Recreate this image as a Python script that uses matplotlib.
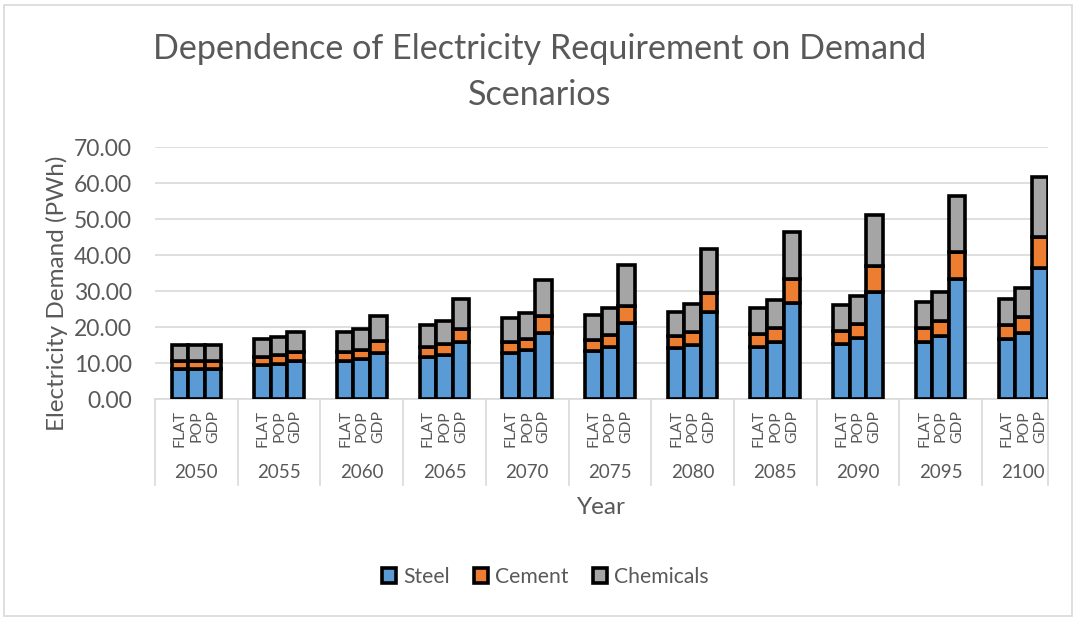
import matplotlib
matplotlib.use("Agg")
import matplotlib.pyplot as plt
import matplotlib.transforms as mtransforms
from matplotlib.patches import Rectangle, Patch
import numpy as np

plt.rcParams['font.family'] = ['Lato', 'DejaVu Sans']

years = ['2050', '2055', '2060', '2065', '2070', '2075', '2080', '2085', '2090', '2095', '2100']
scenarios = ['FLAT', 'POP', 'GDP']

# Electricity demand (PWh) per sector, one list per scenario, indexed by year
steel_flat = [8.4, 9.5, 10.5, 11.6, 12.7, 13.4, 14.1, 14.5, 15.2, 15.9, 16.6]
steel_pop = [8.4, 9.7, 11.0, 12.2, 13.6, 14.4, 15.0, 15.8, 16.9, 17.6, 18.4]
steel_gdp = [8.4, 10.5, 12.9, 15.7, 18.4, 21.0, 24.1, 26.6, 29.8, 33.3, 36.5]

cement_flat = [2.1, 2.3, 2.6, 2.8, 3.1, 3.0, 3.4, 3.6, 3.6, 3.8, 3.9]
cement_pop = [2.1, 2.4, 2.6, 3.0, 3.2, 3.4, 3.6, 3.8, 3.8, 4.1, 4.3]
cement_gdp = [2.1, 2.5, 3.2, 3.8, 4.7, 4.9, 5.4, 6.6, 7.1, 7.4, 8.4]

chem_flat = [4.5, 5.0, 5.5, 6.1, 6.6, 6.9, 6.8, 7.1, 7.2, 7.2, 7.4]
chem_pop = [4.5, 5.2, 5.9, 6.6, 7.2, 7.4, 7.7, 7.9, 7.9, 8.1, 8.2]
chem_gdp = [4.5, 5.7, 6.9, 8.2, 10.0, 11.3, 12.1, 13.2, 14.3, 15.6, 16.8]

series_names = ['Steel', 'Cement', 'Chemicals']
series_colors = ['#5B9BD5', '#ED7D31', '#A5A5A5']
text_color = '#595959'
grid_color = '#D9D9D9'

W, H = 1076, 619
fig = plt.figure(figsize=(W / 100, H / 100), dpi=100)

# Plot area in pixel coordinates
ax_l, ax_r, ax_t, ax_b = 155, 1048, 147, 399
ax = fig.add_axes([ax_l / W, 1 - ax_b / H, (ax_r - ax_l) / W, (ax_b - ax_t) / H])

n_groups = len(years)
group_px = 82.7
xmax = (ax_r - ax_l) / group_px
bar_w = 0.2
offsets = np.array([-bar_w, 0.0, bar_w])

steel = [steel_flat, steel_pop, steel_gdp]
cement = [cement_flat, cement_pop, cement_gdp]
chem = [chem_flat, chem_pop, chem_gdp]

centers = np.arange(n_groups) + 0.5
for si in range(3):
    xs = centers + offsets[si]
    s = np.array(steel[si])
    c = np.array(cement[si])
    h = np.array(chem[si])
    kw = dict(width=bar_w, edgecolor='black', linewidth=2.6, zorder=3)
    ax.bar(xs, s, color=series_colors[0], **kw)
    ax.bar(xs, c, bottom=s, color=series_colors[1], **kw)
    ax.bar(xs, h, bottom=s + c, color=series_colors[2], **kw)

ax.set_xlim(0, xmax)
ax.set_ylim(0, 70)
ax.set_yticks(np.arange(0, 71, 10))
ax.set_yticklabels([f'{v:.2f}' for v in np.arange(0, 71, 10)])
ax.tick_params(axis='y', length=0, pad=16.5, labelsize=16.5, labelcolor=text_color)
ax.set_xticks([])
for sp in ['top', 'right', 'left']:
    ax.spines[sp].set_visible(False)
ax.spines['bottom'].set_color(grid_color)
ax.spines['bottom'].set_linewidth(1.2)
ax.yaxis.grid(True, color=grid_color, linewidth=1.2, zorder=0)
ax.set_axisbelow(True)

# Multi-level category axis: separators, scenario labels, year labels
trans = mtransforms.blended_transform_factory(ax.transData, ax.transAxes)
px = 1.0 / (ax_b - ax_t)
sep_bottom = -(485 - ax_b) * px
for g in list(range(n_groups)) + [xmax]:
    ax.plot([g, g], [0, sep_bottom], transform=trans, color=grid_color,
            linewidth=1.2, clip_on=False, zorder=1)
for gi in range(n_groups):
    for si, name in enumerate(scenarios):
        ax.text(centers[gi] + offsets[si], -(410 - ax_b) * px, name, transform=trans,
                rotation=90, ha='center', va='top', fontsize=11.3, color=text_color)
    ax.text(centers[gi], -(473 - ax_b) * px, years[gi], transform=trans,
            ha='center', va='center', fontsize=13.5, color=text_color)

fig.text((ax_l + ax_r) / 2 / W, 1 - 507 / H, 'Year', ha='center', va='center',
         fontsize=17.5, color=text_color)
fig.text(57 / W, 1 - 293 / H, 'Electricity Demand (PWh)', rotation=90,
         ha='center', va='center', fontsize=17.5, color=text_color)

fig.text(540 / W, 1 - 49 / H, 'Dependence of Electricity Requirement on Demand',
         ha='center', va='center', fontsize=24.6, color=text_color)
fig.text(540 / W, 1 - 95 / H, 'Scenarios',
         ha='center', va='center', fontsize=24.6, color=text_color)

handles = [Patch(facecolor=c, edgecolor='black', linewidth=2.6) for c in series_colors]
fig.legend(handles, series_names, loc='center', bbox_to_anchor=(545 / W, 1 - 577 / H),
           ncol=3, frameon=False, fontsize=15.2, labelcolor=text_color,
           handlelength=0.7, handleheight=0.7, handletextpad=0.3, columnspacing=1.15)

# Chart border
fig.add_artist(Rectangle((4 / W, 3 / H), (1072 - 4) / W, (615 - 4) / H,
                         transform=fig.transFigure, fill=False,
                         edgecolor=grid_color, linewidth=1.2))

fig.savefig('out.png', dpi=100)
